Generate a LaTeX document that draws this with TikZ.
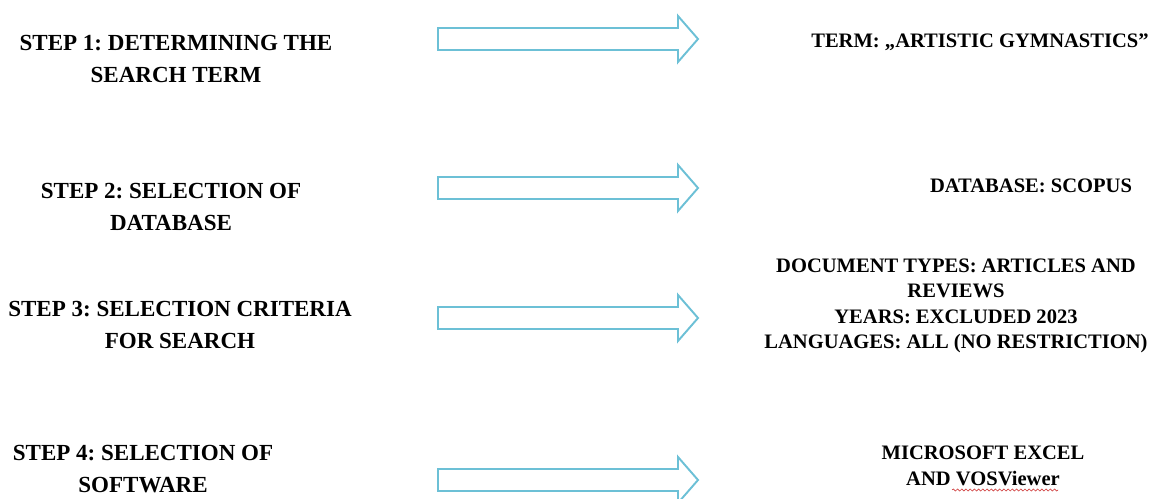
\documentclass[tikz,border=0pt]{standalone}
\usepackage{fontspec}
\setmainfont{Liberation Serif}
\usetikzlibrary{decorations.pathmorphing}
\definecolor{arrowblue}{HTML}{6CC0D6}
\definecolor{spellred}{HTML}{D04040}
\frenchspacing

\begin{document}
\begin{tikzpicture}[x=0.02cm,y=-0.02cm,
  steplabel/.style={align=center,inner sep=0pt,font=\fontsize{13.1pt}{18.2pt}\selectfont\bfseries},
  resultlabel/.style={align=center,inner sep=0pt,font=\fontsize{11.7pt}{14.5pt}\selectfont\bfseries},
  fatarrow/.style={draw=arrowblue,line width=1.1pt,fill=white,line join=miter}]
\useasboundingbox (0,0) rectangle (1154,499);
% steps on the left
\node[steplabel] (S1) at (176,59) {STEP 1: DETERMINING THE\\SEARCH TERM};
\node[steplabel] (S2) at (171,207) {STEP 2: SELECTION OF\\DATABASE};
\node[steplabel] (S3) at (180,325) {STEP 3: SELECTION CRITERIA\\FOR SEARCH};
\node[steplabel] (S4) at (143,469) {STEP 4: SELECTION OF\\SOFTWARE};
% arrows
\foreach \y in {39,188,318,480}
  \draw[fatarrow] (438,\y-11) -- (678,\y-11) -- (678,\y-23) -- (698,\y)
    -- (678,\y+23) -- (678,\y+11) -- (438,\y+11) -- cycle;
% results on the right
\node[resultlabel] (R1) at (980,42) {TERM: \quotedblbase ARTISTIC GYMNASTICS\textquotedblright};
\node[resultlabel] (R2) at (1031,186) {DATABASE: SCOPUS};
\node[resultlabel] (R3) at (956,306) {DOCUMENT TYPES: ARTICLES AND\\REVIEWS\\YEARS: EXCLUDED 2023\\LANGUAGES: ALL (NO RESTRICTION)};
\node[resultlabel] (R4) at (983,466) {MICROSOFT EXCEL\\AND VOSViewer};
\draw[spellred,line width=0.35pt,decorate,decoration={snake,amplitude=0.6pt,segment length=2.4pt}]
  (952,490) -- (1058,490);
\end{tikzpicture}
\end{document}
